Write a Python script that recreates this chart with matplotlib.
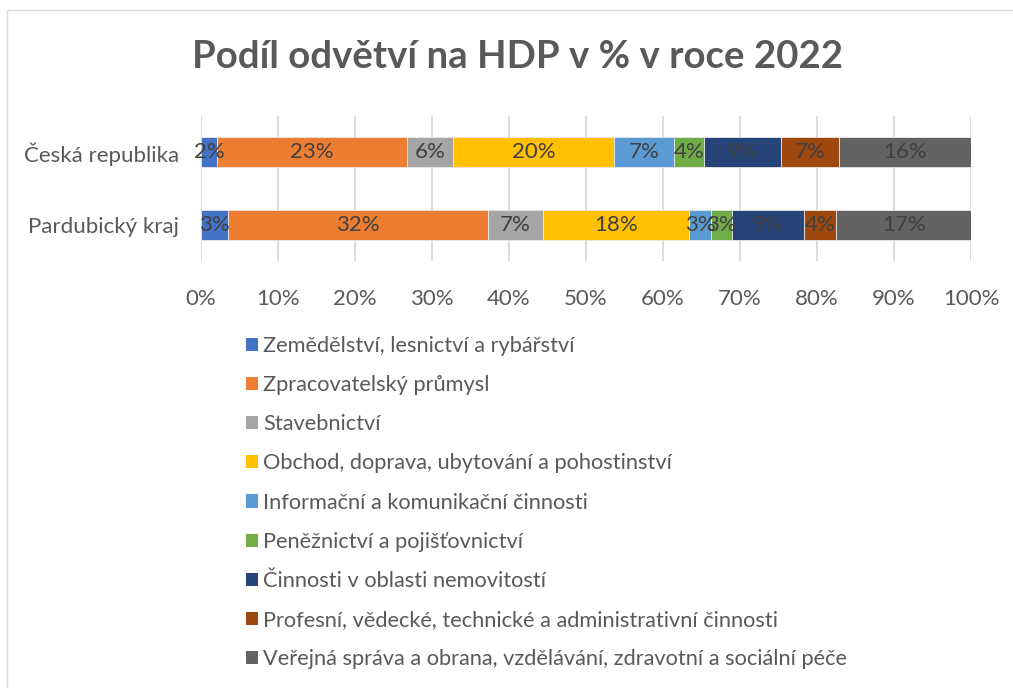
import matplotlib.pyplot as plt
from matplotlib.patches import Rectangle, Patch
import numpy as np

plt.rcParams['font.family'] = ['Lato', 'DejaVu Sans']

regions = ["Česká republika", "Pardubický kraj"]
sectors = [
    "Zemědělství, lesnictví a rybářství",
    "Zpracovatelský průmysl",
    "Stavebnictví",
    "Obchod, doprava, ubytování a pohostinství",
    "Informační a komunikační činnosti",
    "Peněžnictví a pojišťovnictví",
    "Činnosti v oblasti nemovitostí",
    "Profesní, vědecké, technické a administrativní činnosti",
    "Veřejná správa a obrana, vzdělávání, zdravotní a sociální péče",
]
# shares in % (each row does not sum to 100, the chart is 100% stacked)
cr_values = [2.0, 23.1, 5.6, 19.7, 7.3, 3.7, 9.3, 7.1, 16.1]
pk_values = [3.3, 32.1, 6.7, 18.1, 2.6, 2.7, 8.8, 4.0, 16.6]
colors = ["#4472C4", "#ED7D31", "#A5A5A5", "#FFC000", "#5B9BD5",
          "#70AD47", "#264478", "#9E480E", "#636363"]
xticks = np.arange(0, 101, 10)

W, H = 1013, 688
fig = plt.figure(figsize=(W / 100, H / 100), dpi=100)
fig.patches.append(Rectangle((7 / W, -0.01), 1.02, 1 - 10 / H + 0.01,
                             transform=fig.transFigure, fill=False,
                             edgecolor="#d9d9d9", linewidth=1))

ax = fig.add_axes([201 / W, 1 - 261.5 / H, 770 / W, 146 / H])
data = np.array([cr_values, pk_values])
norm = data / data.sum(axis=1, keepdims=True) * 100
ypos = np.arange(len(regions))
left = np.zeros(len(regions))
for i, name in enumerate(sectors):
    ax.barh(ypos, norm[:, i], left=left, height=0.4, color=colors[i],
            edgecolor="#e8e8e8", linewidth=0.6, label=name, zorder=3)
    for j in range(len(regions)):
        ax.text(left[j] + norm[j, i] / 2, ypos[j], f"{data[j, i]:.0f}%",
                ha="center", va="center", fontsize=16, color="#404040", zorder=4)
    left += norm[:, i]

ax.set_xlim(0, 100)
ax.set_ylim(1.5, -0.5)
ax.set_xticks(xticks)
ax.set_xticklabels([f"{t}%" for t in xticks])
ax.set_yticks(ypos)
ax.set_yticklabels(regions)
ax.tick_params(length=0, labelsize=16, labelcolor="#595959")
ax.tick_params(axis="x", pad=20)
ax.tick_params(axis="y", pad=16)
ax.grid(axis="x", color="#d9d9d9", linewidth=1.3, zorder=0)
for s in ax.spines.values():
    s.set_visible(False)

fig.text(517 / W, 1 - 57 / H, "Podíl odvětví na HDP v % v roce 2022", ha="center",
         va="center", fontsize=27.6, fontweight="bold", color="#595959")

handles = [Patch(facecolor=c) for c in colors]
fig.legend(handles, sectors, loc="upper left", bbox_to_anchor=(235 / W, 1 - 325 / H),
           frameon=False, fontsize=15.7, labelcolor="#595959", handlelength=0.55,
           handleheight=0.55, handletextpad=0.25, labelspacing=0.88, borderpad=0)

fig.savefig("out.png", dpi=100)
